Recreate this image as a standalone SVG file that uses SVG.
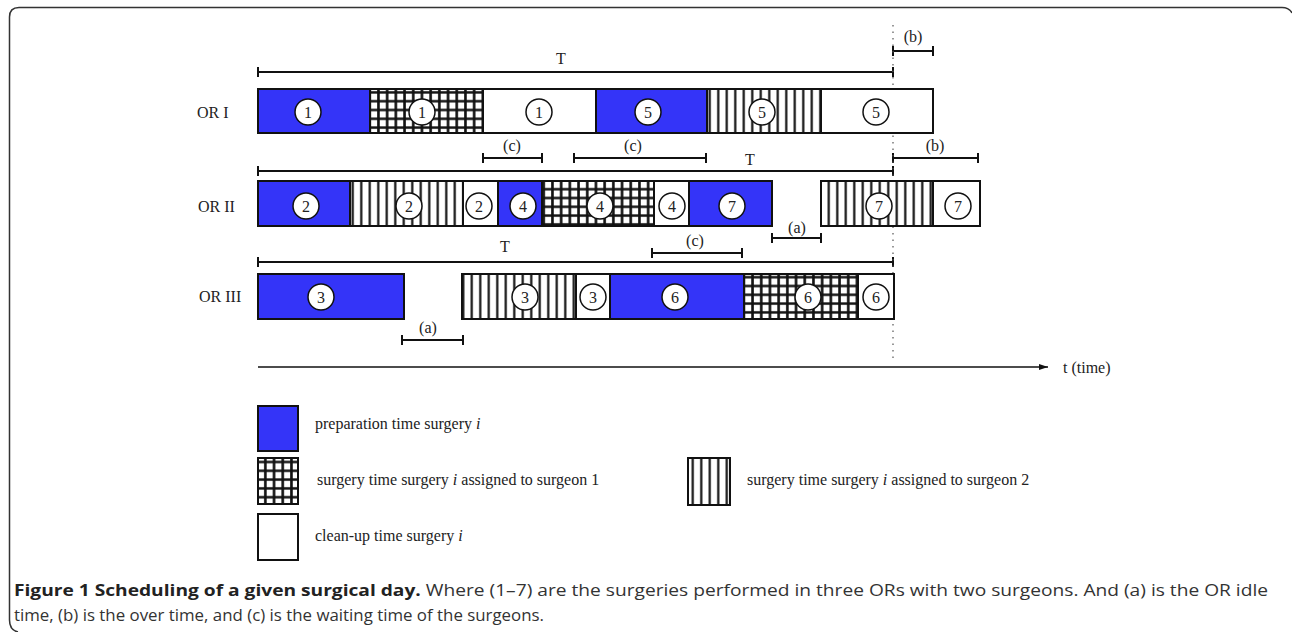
<svg xmlns="http://www.w3.org/2000/svg" width="1292" height="632" viewBox="0 0 1292 632">
<style>
.lbl{font-family:"Liberation Serif",serif;font-size:16px;fill:#222}
.tl{font-family:"Liberation Serif",serif;font-size:16px;fill:#222;text-anchor:middle;dominant-baseline:central}
.num{font-family:"Liberation Serif",serif;font-size:16px;fill:#222;text-anchor:middle;dominant-baseline:central}
.prep{fill:#3434F8;stroke:#111;stroke-width:2}
.grid{fill:url(#gridPat);stroke:#111;stroke-width:2}
.strp{fill:url(#stripePat);stroke:#111;stroke-width:2}
.clean{fill:#fff;stroke:#111;stroke-width:2}
.circ{fill:#fff;stroke:#111;stroke-width:1.5}
.span{stroke:#111;stroke-width:2;fill:none}
.cap{font-family:"Open Sans","Noto Sans",sans-serif;font-size:16px;fill:#333}
</style>
<defs>
<pattern id="gridPat" patternUnits="userSpaceOnUse" width="8.7" height="8.8">
<rect width="8.7" height="8.8" fill="#fff"/>
<path d="M4.35 0V8.8M0 4.4H8.7" stroke="#111" stroke-width="2.6"/>
</pattern>
<pattern id="stripePat" patternUnits="userSpaceOnUse" width="8.5" height="10">
<rect width="8.5" height="10" fill="#fff"/>
<path d="M4.25 0V10" stroke="#111" stroke-width="2.2"/>
</pattern>
<marker id="arr" markerWidth="10" markerHeight="8" refX="9" refY="4" orient="auto" markerUnits="userSpaceOnUse">
<path d="M0 1L9 4L0 7Z" fill="#111"/>
</marker>
</defs>

<path d="M18 632 Q9.5 630 9.5 620 L9.5 17 Q9.5 7.5 19 7.5 L1282 7.5 Q1289 7.5 1292 13" fill="none" stroke="#333" stroke-width="1.5"/>

<g id="labels">
<text class="lbl" x="197" y="118">OR I</text>
<text class="lbl" x="198" y="212">OR II</text>
<text class="lbl" x="199" y="302">OR III</text>
</g>

<g id="connectors">
<path class="span" d="M258 72H893M258 67V77M893 67V77"/>
<path class="span" d="M258 171H893M258 166V176M893 166V176"/>
<path class="span" d="M258 262H893M258 257V267M893 257V267"/>
<text class="tl" x="561" y="58">T</text>
<text class="tl" x="750" y="159">T</text>
<text class="tl" x="505" y="246">T</text>
<path class="span" d="M893 51H933M893 46V56M933 46V56"/>
<text class="tl" x="913" y="36">(b)</text>
<path class="span" d="M893 158H978M893 153V163M978 153V163"/>
<text class="tl" x="935" y="145">(b)</text>
<path class="span" d="M483 158H542M483 153V163M542 153V163"/>
<text class="tl" x="512" y="145">(c)</text>
<path class="span" d="M574 158H706M574 153V163M706 153V163"/>
<text class="tl" x="633" y="145">(c)</text>
<path class="span" d="M652 253H742M652 248V258M742 248V258"/>
<text class="tl" x="695" y="240">(c)</text>
<path class="span" d="M772 238H821M772 233V243M821 233V243"/>
<text class="tl" x="797" y="227">(a)</text>
<path class="span" d="M402 340H463M402 335V345M463 335V345"/>
<text class="tl" x="428" y="327">(a)</text>
<path d="M893 25V360" stroke="#555" stroke-width="1.2" stroke-dasharray="1.5 5"/>
<path d="M258 367H1048" stroke="#111" stroke-width="1.5" marker-end="url(#arr)"/>
<text class="lbl" x="1063" y="373" font-size="17">t (time)</text>
</g>

<g id="or1">
<rect class="prep" x="258" y="89" width="112" height="44"/>
<rect class="grid" x="370" y="89" width="113" height="44"/>
<rect class="clean" x="483" y="89" width="113" height="44"/>
<rect class="prep" x="596" y="89" width="111" height="44"/>
<rect class="strp" x="707" y="89" width="114" height="44"/>
<rect class="clean" x="821" y="89" width="112" height="44"/>
<circle class="circ" cx="308" cy="112" r="13"/><text class="num" x="308" y="112">1</text>
<circle class="circ" cx="422" cy="112" r="13"/><text class="num" x="422" y="112">1</text>
<circle class="circ" cx="539" cy="112" r="13"/><text class="num" x="539" y="112">1</text>
<circle class="circ" cx="648" cy="112" r="13"/><text class="num" x="648" y="112">5</text>
<circle class="circ" cx="762" cy="112" r="13"/><text class="num" x="762" y="112">5</text>
<circle class="circ" cx="876" cy="112" r="13"/><text class="num" x="876" y="112">5</text>
</g>

<g id="or2">
<rect class="prep" x="258" y="181" width="92" height="45"/>
<rect class="strp" x="350" y="181" width="113" height="45"/>
<rect class="clean" x="463" y="181" width="35" height="45"/>
<rect class="prep" x="498" y="181" width="44" height="45"/>
<rect class="grid" x="542" y="181" width="112" height="45"/>
<rect class="clean" x="654" y="181" width="35" height="45"/>
<rect class="prep" x="689" y="181" width="83" height="45"/>
<rect class="strp" x="821" y="181" width="112" height="45"/>
<rect class="clean" x="933" y="181" width="47" height="45"/>
<circle class="circ" cx="306" cy="206" r="13"/><text class="num" x="306" y="206">2</text>
<circle class="circ" cx="409" cy="206" r="13"/><text class="num" x="409" y="206">2</text>
<circle class="circ" cx="479" cy="206" r="13"/><text class="num" x="479" y="206">2</text>
<circle class="circ" cx="523" cy="206" r="13"/><text class="num" x="523" y="206">4</text>
<circle class="circ" cx="600" cy="206" r="13"/><text class="num" x="600" y="206">4</text>
<circle class="circ" cx="672" cy="206" r="13"/><text class="num" x="672" y="206">4</text>
<circle class="circ" cx="732" cy="206" r="13"/><text class="num" x="732" y="206">7</text>
<circle class="circ" cx="879" cy="206" r="13"/><text class="num" x="879" y="206">7</text>
<circle class="circ" cx="958" cy="206" r="13"/><text class="num" x="958" y="206">7</text>
</g>

<g id="or3">
<rect class="prep" x="258" y="274" width="146" height="45"/>
<rect class="strp" x="462" y="274" width="114" height="45"/>
<rect class="clean" x="576" y="274" width="34" height="45"/>
<rect class="prep" x="610" y="274" width="134" height="45"/>
<rect class="grid" x="744" y="274" width="114" height="45"/>
<rect class="clean" x="858" y="274" width="36" height="45"/>
<circle class="circ" cx="321" cy="297" r="13"/><text class="num" x="321" y="297">3</text>
<circle class="circ" cx="525" cy="297" r="13"/><text class="num" x="525" y="297">3</text>
<circle class="circ" cx="593" cy="297" r="13"/><text class="num" x="593" y="297">3</text>
<circle class="circ" cx="675" cy="297" r="13"/><text class="num" x="675" y="297">6</text>
<circle class="circ" cx="808" cy="297" r="13"/><text class="num" x="808" y="297">6</text>
<circle class="circ" cx="876" cy="297" r="13"/><text class="num" x="876" y="297">6</text>
</g>

<g id="legend">
<rect class="prep" x="258" y="406" width="40" height="45"/>
<text class="lbl" x="315" y="429">preparation time surgery <tspan font-style="italic">i</tspan></text>
<rect class="grid" x="258" y="458" width="40" height="46"/>
<text class="lbl" x="317" y="485">surgery time surgery <tspan font-style="italic">i</tspan> assigned to surgeon 1</text>
<rect class="clean" x="258" y="514" width="40" height="46"/>
<text class="lbl" x="315" y="541">clean-up time surgery <tspan font-style="italic">i</tspan></text>
<rect class="strp" x="688" y="458" width="42" height="47"/>
<text class="lbl" x="747" y="485">surgery time surgery <tspan font-style="italic">i</tspan> assigned to surgeon 2</text>
</g>

<g id="caption">
<text class="cap" x="14" y="596" textLength="1254" lengthAdjust="spacingAndGlyphs"><tspan font-weight="bold" fill="#222">Figure 1 Scheduling of a given surgical day.</tspan> Where (1–7) are the surgeries performed in three ORs with two surgeons. And (a) is the OR idle</text>
<text class="cap" x="14" y="621" textLength="530" lengthAdjust="spacingAndGlyphs">time, (b) is the over time, and (c) is the waiting time of the surgeons.</text>
</g>
</svg>
